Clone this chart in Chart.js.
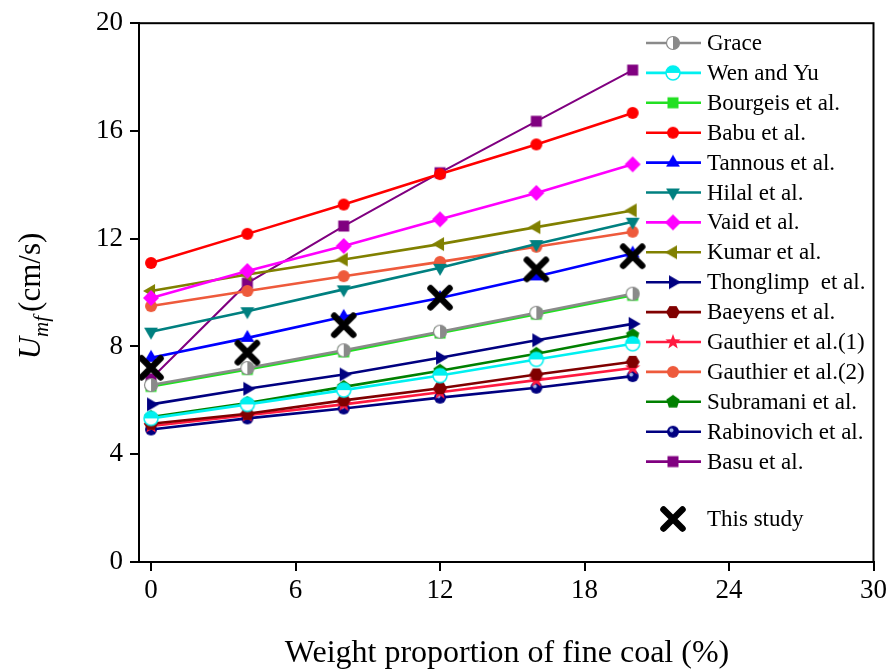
<!DOCTYPE html>
<html>
<head>
    <title>Umf vs fine coal</title>
    <style>
        html, body { margin: 0; padding: 0; background: #fff; }
        #wrap { width: 891px; height: 670px; }
    </style>
</head>
<body>
    <div id="wrap"><canvas id="umfChart" width="891" height="670"></canvas></div>

    <script src="https://cdn.jsdelivr.net/npm/chart.js"></script>
    <script>
        // fine coal weight proportion (%)
        const weight = [0, 4, 8, 12, 16, 20];

        const grace      = [6.57, 7.20, 7.86, 8.55, 9.25, 9.96];
        const wenYu      = [5.33, 5.85, 6.38, 6.92, 7.52, 8.10];
        const bourgeis   = [6.52, 7.15, 7.80, 8.50, 9.20, 9.90];
        const babu       = [11.10, 12.18, 13.27, 14.40, 15.50, 16.67];
        const tannous    = [7.58, 8.32, 9.10, 9.80, 10.60, 11.45];
        const hilal      = [8.55, 9.31, 10.12, 10.92, 11.80, 12.63];
        const vaid       = [9.80, 10.80, 11.73, 12.72, 13.70, 14.76];
        const kumar      = [10.06, 10.67, 11.23, 11.80, 12.43, 13.05];
        const thonglimp  = [5.85, 6.43, 6.96, 7.58, 8.23, 8.84];
        const baeyens    = [5.13, 5.50, 6.00, 6.45, 6.96, 7.43];
        const gauthier1  = [5.05, 5.45, 5.85, 6.30, 6.75, 7.20];
        const gauthier2  = [9.50, 10.06, 10.61, 11.14, 11.70, 12.26];
        const subramani  = [5.38, 5.90, 6.50, 7.10, 7.73, 8.42];
        const rabinovich = [4.92, 5.33, 5.70, 6.10, 6.47, 6.90];
        const basu       = [6.80, 10.35, 12.47, 14.45, 16.36, 18.26];
        const thisStudy  = [7.21, 7.77, 8.79, 9.81, 10.86, 11.35];

        const xTicks = [0, 6, 12, 18, 24, 30];
        const yTicks = [0, 4, 8, 12, 16, 20];

        const SERIF = '"Liberation Serif", "DejaVu Serif", serif';

        // small canvases used as point styles (plot and legend)
        const makeMarker = (kind, color) => {
            const S = kind === 'x' ? 32 : 20;
            const c = document.createElement('canvas');
            c.width = S; c.height = S;
            const g = c.getContext('2d');
            g.translate(S / 2, S / 2);
            g.fillStyle = color;
            g.strokeStyle = color;
            const poly = (n, r, rot) => {
                g.beginPath();
                for (let i = 0; i < n; i++) {
                    const a = rot + i * 2 * Math.PI / n;
                    g.lineTo(r * Math.cos(a), r * Math.sin(a));
                }
                g.closePath();
                g.fill();
            };
            switch (kind) {
                case 'circle':
                    g.beginPath(); g.arc(0, 0, 6, 0, 2 * Math.PI); g.fill();
                    break;
                case 'halfRight':
                    g.beginPath(); g.arc(0, 0, 6.5, 0, 2 * Math.PI);
                    g.fillStyle = '#fff'; g.fill();
                    g.beginPath(); g.arc(0, 0, 6.5, -Math.PI / 2, Math.PI / 2);
                    g.fillStyle = color; g.fill();
                    g.beginPath(); g.arc(0, 0, 6.5, 0, 2 * Math.PI);
                    g.lineWidth = 1.2; g.stroke();
                    break;
                case 'halfTop':
                    g.beginPath(); g.arc(0, 0, 7, 0, 2 * Math.PI);
                    g.fillStyle = '#fff'; g.fill();
                    g.beginPath(); g.arc(0, 0, 7, Math.PI, 2 * Math.PI);
                    g.fillStyle = color; g.fill();
                    g.beginPath(); g.arc(0, 0, 7, 0, 2 * Math.PI);
                    g.lineWidth = 1.5; g.stroke();
                    break;
                case 'dot':
                    g.beginPath(); g.arc(0, 0, 6, 0, 2 * Math.PI); g.fill();
                    g.beginPath(); g.arc(-1.5, -1.5, 2, 0, 2 * Math.PI);
                    g.fillStyle = '#9fb6e8'; g.fill();
                    break;
                case 'square':
                    g.fillRect(-5.5, -5.5, 11, 11);
                    break;
                case 'up':    poly(3, 8, -Math.PI / 2); break;
                case 'down':  poly(3, 8, Math.PI / 2); break;
                case 'left':  poly(3, 8, Math.PI); break;
                case 'right': poly(3, 8, 0); break;
                case 'diamond': poly(4, 8, 0); break;
                case 'hexagon': poly(6, 7, 0); break;
                case 'pentagon': poly(5, 7, -Math.PI / 2); break;
                case 'star':
                    g.beginPath();
                    for (let i = 0; i < 10; i++) {
                        const r = i % 2 ? 3.3 : 8;
                        const a = -Math.PI / 2 + i * Math.PI / 5;
                        g.lineTo(r * Math.cos(a), r * Math.sin(a));
                    }
                    g.closePath(); g.fill();
                    break;
                case 'x':
                    g.lineWidth = 6.5; g.lineCap = 'round';
                    g.beginPath();
                    g.moveTo(-9.5, -9.5); g.lineTo(9.5, 9.5);
                    g.moveTo(9.5, -9.5); g.lineTo(-9.5, 9.5);
                    g.stroke();
                    break;
            }
            return c;
        };

        const series = [
            ['Grace', grace, '#8a8a8a', 'halfRight'],
            ['Wen and Yu', wenYu, '#00f0f0', 'halfTop'],
            ['Bourgeis et al.', bourgeis, '#22e022', 'square'],
            ['Babu et al.', babu, '#ff0000', 'circle'],
            ['Tannous et al.', tannous, '#0000ff', 'up'],
            ['Hilal et al.', hilal, '#008080', 'down'],
            ['Vaid et al.', vaid, '#ff00ff', 'diamond'],
            ['Kumar et al.', kumar, '#808000', 'left'],
            ['Thonglimp  et al.', thonglimp, '#000080', 'right'],
            ['Baeyens et al.', baeyens, '#800000', 'hexagon'],
            ['Gauthier et al.(1)', gauthier1, '#ff1a40', 'star'],
            ['Gauthier et al.(2)', gauthier2, '#ee5a3c', 'circle'],
            ['Subramani et al.', subramani, '#008000', 'pentagon'],
            ['Rabinovich et al.', rabinovich, '#000080', 'dot'],
            ['Basu et al.', basu, '#800080', 'square']
        ];

        const datasets = series.map(([label, vals, color, kind], i) => ({
            label: label,
            data: weight.map((x, j) => ({ x: x, y: vals[j] })),
            borderColor: color,
            backgroundColor: color,
            borderWidth: label === 'Basu et al.' ? 2 : 2.6,
            pointStyle: makeMarker(kind, color),
            pointRadius: 6,
            pointHoverRadius: 6,
            order: i + 1
        }));

        datasets.push({
            label: 'This study',
            data: weight.map((x, j) => ({ x: x, y: thisStudy[j] })),
            borderColor: '#000',
            backgroundColor: '#000',
            showLine: false,
            pointStyle: makeMarker('x', '#000'),
            pointRadius: 10,
            order: 0
        });

        // frame, custom legend and axis titles
        const decorations = {
            id: 'decorations',
            afterDraw(chart) {
                const ctx = chart.ctx;
                const a = chart.chartArea;
                ctx.save();
                ctx.strokeStyle = '#000';
                ctx.lineWidth = 2;
                ctx.strokeRect(a.left, a.top, a.right - a.left, a.bottom - a.top);

                // legend
                ctx.font = '23px ' + SERIF;
                ctx.textBaseline = 'middle';
                ctx.fillStyle = '#000';
                chart.data.datasets.forEach((ds, i) => {
                    const y = ds.label === 'This study' ? 519 : 43 + i * 29.9;
                    if (ds.showLine !== false) {
                        ctx.strokeStyle = ds.borderColor;
                        ctx.lineWidth = 2.6;
                        ctx.beginPath();
                        ctx.moveTo(646, y); ctx.lineTo(701, y);
                        ctx.stroke();
                    }
                    const m = ds.pointStyle;
                    ctx.drawImage(m, 673 - m.width / 2, y - m.height / 2);
                    ctx.fillStyle = '#000';
                    ctx.fillText(ds.label, 707, y + 1);
                });

                // x title
                ctx.textAlign = 'center';
                ctx.textBaseline = 'alphabetic';
                ctx.font = '32px ' + SERIF;
                ctx.fillText('Weight proportion of fine coal (%)', 507, 662);

                // y title: U_mf (cm/s)
                ctx.translate(40, 296);
                ctx.rotate(-Math.PI / 2);
                const big = '31px ' + SERIF;
                const bigIt = 'italic 31px ' + SERIF;
                const sub = 'italic 21px ' + SERIF;
                ctx.font = bigIt; const wU = ctx.measureText('U').width;
                ctx.font = sub; const wS = ctx.measureText('mf').width;
                ctx.font = big; const wT = ctx.measureText('(cm/s)').width;
                let x0 = -(wU + wS + 4 + wT) / 2;
                ctx.textAlign = 'left';
                ctx.font = bigIt; ctx.fillText('U', x0, 0);
                ctx.font = sub; ctx.fillText('mf', x0 + wU, 8);
                ctx.font = big; ctx.fillText('(cm/s)', x0 + wU + wS + 4, 0);
                ctx.restore();
            }
        };

        const tickFont = { family: SERIF, size: 27 };

        new Chart(document.getElementById('umfChart'), {
            type: 'line',
            data: { datasets: datasets },
            plugins: [decorations],
            options: {
                responsive: false,
                animation: false,
                layout: { padding: { top: 21, right: 15, left: 0, bottom: 0 } },
                plugins: {
                    legend: { display: false },
                    tooltip: { enabled: false }
                },
                scales: {
                    x: {
                        type: 'linear',
                        min: -0.5,
                        max: 30,
                        afterBuildTicks: s => { s.ticks = xTicks.map(v => ({ value: v })); },
                        afterFit: s => { s.height = 108; },
                        ticks: { font: tickFont, color: '#000', padding: 4, maxRotation: 0 },
                        grid: { drawOnChartArea: false, drawTicks: true, tickLength: 9, color: '#000', lineWidth: 2 },
                        border: { display: true, color: '#000', width: 2 }
                    },
                    y: {
                        min: 0,
                        max: 20,
                        afterBuildTicks: s => { s.ticks = yTicks.map(v => ({ value: v })); },
                        afterFit: s => { s.width = 139; },
                        ticks: { font: tickFont, color: '#000', padding: 7 },
                        grid: { drawOnChartArea: false, drawTicks: true, tickLength: 9, color: '#000', lineWidth: 2 },
                        border: { display: true, color: '#000', width: 2 }
                    }
                }
            }
        });
    </script>
</body>
</html>
